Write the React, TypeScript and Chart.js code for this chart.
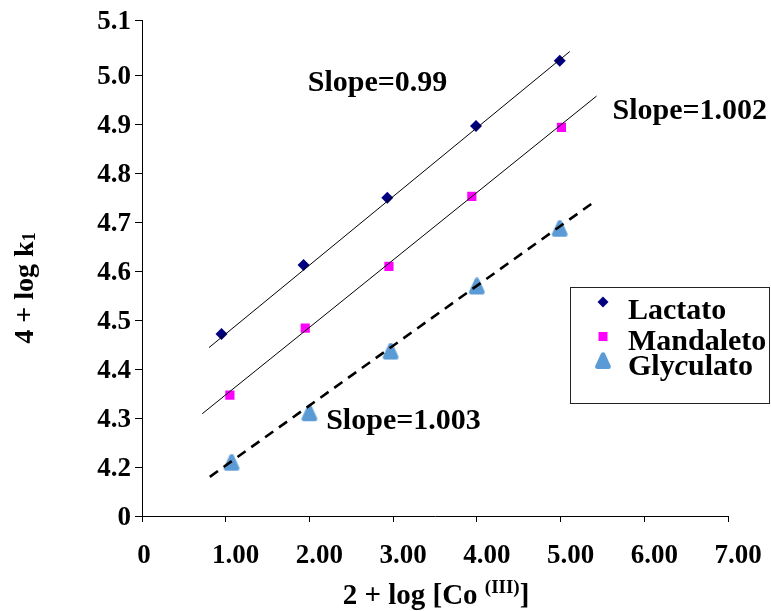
import React, { useEffect, useRef } from 'react';
import { Chart, registerables } from 'chart.js';

Chart.register(...registerables);

// ---- data ----
const seriesNames = ['Lactato', 'Mandaleto', 'Glyculato'];

const lactatoX = [0.95, 1.93, 2.93, 3.99, 4.99];
const lactatoY = [4.472, 4.613, 4.75, 4.897, 5.03];
const mandaletoX = [1.05, 1.95, 2.95, 3.94, 5.01];
const mandaletoY = [4.347, 4.484, 4.61, 4.753, 4.894];
const glyculatoX = [1.07, 2.0, 2.97, 4.0, 4.99];
const glyculatoY = [4.209, 4.31, 4.436, 4.569, 4.687];

const lactatoFitX = [0.8, 5.11];
const lactatoFitY = [4.444, 5.049];
const mandaletoFitX = [0.72, 5.43];
const mandaletoFitY = [4.309, 4.958];
const glyculatoFitX = [0.81, 5.37];
const glyculatoFitY = [4.18, 4.738];

const slopeLabels = ['Slope=0.99', 'Slope=1.002', 'Slope=1.003'];
const slopeLabelX = [1.98, 5.62, 2.2];
const slopeLabelY = [4.968, 4.911, 4.277];

const yMin = 4.1;
const yMax = 5.113;
const yTickValues = [4.1, 4.2, 4.3, 4.4, 4.5, 4.6, 4.7, 4.8, 4.9, 5.0, 5.113];
const yTickLabels = ['0', '4.2', '4.3', '4.4', '4.5', '4.6', '4.7', '4.8', '4.9', '5.0', '5.1'];
const xTickValues = [0, 1, 2, 3, 4, 5, 6, 7];
const xTickLabels = ['0', '1.00', '2.00', '3.00', '4.00', '5.00', '6.00', '7.00'];

const xTitleMain = '2 + log [Co ';
const xTitleSup = '(III)';
const xTitleEnd = ']';
const yTitleMain = '4 + log k';
const yTitleSub = '1';

// ---- styles ----
const SERIF = "'Liberation Serif', 'Times New Roman', serif";
const NAVY = '#000080';
const MAGENTA = '#FF00FF';
const BLUE = '#5B9BD5';

const zip = (xs: number[], ys: number[]) => xs.map((x, i) => ({ x, y: ys[i] }));

function makeTriangle(): HTMLCanvasElement {
  const c = document.createElement('canvas');
  c.width = 18;
  c.height = 18;
  const g = c.getContext('2d')!;
  g.fillStyle = BLUE;
  g.strokeStyle = BLUE;
  g.lineWidth = 4.5;
  g.lineJoin = 'round';
  g.beginPath();
  g.moveTo(9, 2.5);
  g.lineTo(3.4, 14.8);
  g.lineTo(14.6, 14.8);
  g.closePath();
  g.fill();
  g.stroke();
  return c;
}

function makeOverlayPlugin(tri: HTMLCanvasElement) {
  return {
    id: 'overlay',
    afterDatasetsDraw(chart: any) {
      const ctx: CanvasRenderingContext2D = chart.ctx;
      const xs = chart.scales.x;
      const ys = chart.scales.y;
      ctx.save();
      ctx.fillStyle = '#000';
      ctx.textAlign = 'left';
      ctx.textBaseline = 'alphabetic';

      // x tick labels
      ctx.font = `bold 27px ${SERIF}`;
      ctx.textAlign = 'center';
      xTickValues.forEach((v, i) => {
        const px = xs.getPixelForValue(v) + (i === 0 ? 2 : 10);
        ctx.fillText(xTickLabels[i], px, 563);
      });
      ctx.textAlign = 'left';

      // slope annotations
      ctx.font = `bold 30px ${SERIF}`;
      slopeLabels.forEach((t, i) => {
        ctx.fillText(t, xs.getPixelForValue(slopeLabelX[i]), ys.getPixelForValue(slopeLabelY[i]));
      });

      // legend box
      ctx.strokeStyle = '#222';
      ctx.lineWidth = 1;
      ctx.strokeRect(570.5, 287.5, 199, 116);
      ctx.fillStyle = NAVY;
      ctx.beginPath();
      ctx.moveTo(603, 296.5);
      ctx.lineTo(608.5, 302);
      ctx.lineTo(603, 307.5);
      ctx.lineTo(597.5, 302);
      ctx.closePath();
      ctx.fill();
      ctx.fillStyle = MAGENTA;
      ctx.fillRect(598.5, 332, 9, 9);
      ctx.drawImage(tri, 603 - 9, 361 - 9);

      ctx.fillStyle = '#000';
      ctx.font = `bold 30px ${SERIF}`;
      ctx.fillText(seriesNames[0], 628, 319);
      ctx.fillText(seriesNames[1], 628, 350);
      const g3 = seriesNames[2];
      const a = g3.slice(0, 3), b = g3.slice(3, 4), c = g3.slice(4);
      let x = 628;
      ctx.fillText(a, x, 375);
      x += ctx.measureText(a).width;
      ctx.font = `italic bold 30px ${SERIF}`;
      ctx.fillText(b, x, 375);
      x += ctx.measureText(b).width;
      ctx.font = `bold 30px ${SERIF}`;
      ctx.fillText(c, x, 375);

      // x title
      const mainFont = `bold 29px ${SERIF}`;
      const smallFont = `bold 19px ${SERIF}`;
      ctx.font = mainFont;
      const w1 = ctx.measureText(xTitleMain).width;
      const w3 = ctx.measureText(xTitleEnd).width;
      ctx.font = smallFont;
      const w2 = ctx.measureText(xTitleSup).width;
      const total = w1 + w2 + w3;
      let tx = 436 - total / 2;
      const by = 604;
      ctx.font = mainFont;
      ctx.fillText(xTitleMain, tx, by);
      tx += w1;
      ctx.font = smallFont;
      ctx.fillText(xTitleSup, tx, by - 11);
      tx += w2;
      ctx.font = mainFont;
      ctx.fillText(xTitleEnd, tx, by);

      // y title (rotated)
      const yFont = `bold 28px ${SERIF}`;
      ctx.translate(33, 288);
      ctx.rotate(-Math.PI / 2);
      ctx.font = yFont;
      const v1 = ctx.measureText(yTitleMain).width;
      ctx.font = `bold 18px ${SERIF}`;
      const v2 = ctx.measureText(yTitleSub).width;
      let ty = -(v1 + v2) / 2;
      ctx.font = yFont;
      ctx.fillText(yTitleMain, ty, 0);
      ty += v1;
      ctx.font = `bold 18px ${SERIF}`;
      ctx.fillText(yTitleSub, ty, 2);

      ctx.restore();
    },
  };
}

export default function App() {
  const ref = useRef<HTMLCanvasElement | null>(null);

  useEffect(() => {
    if (!ref.current) return;
    const tri = makeTriangle();
    const tickFont = { family: SERIF, size: 27, weight: 'bold' as const };
    const chart: any = new Chart(ref.current, {
      type: 'scatter',
      data: {
        datasets: [
          {
            label: seriesNames[0],
            data: zip(lactatoX, lactatoY),
            pointStyle: 'rectRot',
            pointRadius: 6,
            pointBackgroundColor: NAVY,
            pointBorderColor: NAVY,
            pointBorderWidth: 0,
            showLine: false,
            order: 2,
          },
          {
            label: seriesNames[1],
            data: zip(mandaletoX, mandaletoY),
            pointStyle: 'rect',
            pointRadius: 6.5,
            pointBackgroundColor: MAGENTA,
            pointBorderColor: MAGENTA,
            pointBorderWidth: 0,
            showLine: false,
            order: 2,
          },
          {
            label: seriesNames[2],
            data: zip(glyculatoX, glyculatoY),
            pointStyle: tri,
            pointRadius: 8,
            showLine: false,
            order: 2,
          },
          {
            label: 'fit1',
            data: zip(lactatoFitX, lactatoFitY),
            showLine: true,
            pointRadius: 0,
            borderColor: '#000',
            borderWidth: 1,
            order: 1,
          },
          {
            label: 'fit2',
            data: zip(mandaletoFitX, mandaletoFitY),
            showLine: true,
            pointRadius: 0,
            borderColor: '#000',
            borderWidth: 1,
            order: 1,
          },
          {
            label: 'fit3',
            data: zip(glyculatoFitX, glyculatoFitY),
            showLine: true,
            pointRadius: 0,
            borderColor: '#000',
            borderWidth: 2.6,
            borderDash: [10, 7],
            order: 1,
          },
        ],
      },
      options: {
        responsive: false,
        animation: false,
        layout: { padding: { top: 20, right: 43, left: 0, bottom: 0 } },
        plugins: {
          legend: { display: false },
          tooltip: { enabled: false },
        },
        scales: {
          x: {
            type: 'linear',
            min: 0,
            max: 7,
            afterFit: (s: any) => {
              s.height = 95;
            },
            afterBuildTicks: (s: any) => {
              s.ticks = xTickValues.map((v) => ({ value: v }));
            },
            ticks: {
              display: false,
              autoSkip: false,
            },
            grid: {
              drawOnChartArea: false,
              drawTicks: true,
              tickLength: 6,
              color: '#000',
            },
            border: { display: true, color: '#000', width: 1 },
          },
          y: {
            type: 'linear',
            min: yMin,
            max: yMax,
            afterFit: (s: any) => {
              s.width = 142;
            },
            afterBuildTicks: (s: any) => {
              s.ticks = yTickValues.map((v) => ({ value: v }));
            },
            ticks: {
              font: tickFont,
              color: '#000',
              padding: 4,
              labelOffset: 2,
              autoSkip: false,
              callback: (_v: any, i: number) => yTickLabels[i],
            },
            grid: {
              drawOnChartArea: false,
              drawTicks: true,
              tickLength: 7,
              color: '#000',
            },
            border: { display: true, color: '#000', width: 1 },
          },
        },
      },
      plugins: [makeOverlayPlugin(tri)],
    });
    return () => chart.destroy();
  }, []);

  return (
    <div style={{ position: 'absolute', left: 0, top: 0, width: 771, height: 611, background: '#fff' }}>
      <canvas ref={ref} width={771} height={611} style={{ display: 'block' }} />
    </div>
  );
}
